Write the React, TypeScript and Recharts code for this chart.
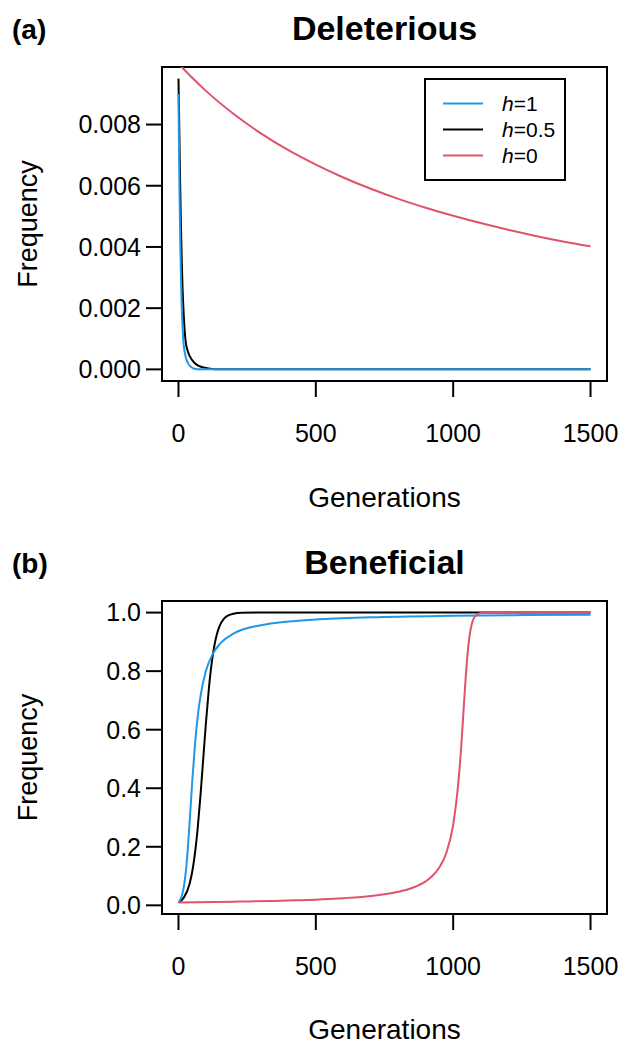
import React from "react";
import { LineChart, Line, XAxis, YAxis, ReferenceArea } from "recharts";

// ---------- Data ----------
// Panel (a) Deleterious
const delH1Gen = [0, 3, 6, 9, 12, 15, 18, 22, 26, 30, 36, 45, 55, 70, 100, 1500];
const delH1Freq = [0.009, 0.0063, 0.0044, 0.003, 0.002, 0.00135, 0.0009, 0.0006, 0.00042, 0.0003, 0.00018, 0.000085, 0.00003, 0.000006, 0, 0];

const delH05Gen = [0, 3, 6, 9, 12, 15, 19, 23, 27, 33, 40, 50, 60, 70, 82, 95, 115, 150, 1500];
const delH05Freq = [0.0095, 0.0078, 0.0061, 0.0047, 0.0035, 0.0026, 0.0018, 0.0012, 0.00085, 0.00062, 0.00045, 0.0003, 0.0002, 0.00013, 0.000085, 0.00005, 0.00002, 0.000003, 0];

const delH0Gen = [0, 12, 50, 100, 200, 300, 400, 500, 600, 700, 800, 900, 1000, 1100, 1200, 1300, 1400, 1500];
const delH0Freq = [0.01, 0.00988, 0.00953, 0.0091, 0.00835, 0.00771, 0.00716, 0.00669, 0.00627, 0.0059, 0.00557, 0.00528, 0.00502, 0.00478, 0.00456, 0.00436, 0.00418, 0.00402];

// Panel (b) Beneficial
const benH1Gen = [0, 10, 20, 30, 40, 50, 60, 70, 80, 100, 125, 150, 200, 300, 400, 500, 700, 1000, 1250, 1500];
const benH1Freq = [0.01, 0.0263, 0.0655, 0.147, 0.276, 0.422, 0.549, 0.645, 0.714, 0.801, 0.859, 0.8925, 0.928, 0.957, 0.9696, 0.9766, 0.984, 0.9891, 0.9914, 0.9929];

const benH05Gen = [0, 20, 40, 50, 60, 70, 80, 90, 100, 110, 120, 130, 140, 150, 165, 180, 200, 230, 300, 1500];
const benH05Freq = [0.01, 0.0272, 0.0721, 0.1146, 0.1773, 0.2641, 0.374, 0.499, 0.6236, 0.734, 0.821, 0.884, 0.927, 0.955, 0.9785, 0.9899, 0.9963, 0.9992, 1, 1];

const benH0Gen = [0, 200, 400, 600, 700, 800, 850, 900, 925, 950, 975, 1000, 1015, 1020, 1026, 1030, 1035, 1045, 1052, 1060, 1070, 1080, 1100, 1150, 1500];
const benH0Freq = [0.01, 0.0125, 0.0165, 0.0245, 0.032, 0.0463, 0.0594, 0.082, 0.101, 0.13, 0.179, 0.275, 0.383, 0.431, 0.5, 0.553, 0.624, 0.77, 0.855, 0.923, 0.969, 0.988, 0.9983, 1, 1];

const xTicks = [0, 500, 1000, 1500];
const delYTicks = [0, 0.002, 0.004, 0.006, 0.008];
const benYTicks = [0, 0.2, 0.4, 0.6, 0.8, 1.0];

const legendLabels = ["1", "0.5", "0"];

const BLUE = "#2297E6";
const BLACK = "#000000";
const RED = "#DF536B";
const FONT = "'Liberation Sans', Arial, Helvetica, sans-serif";

const pairs = (xs: number[], ys: number[]) => xs.map((x, i) => ({ x, y: ys[i] }));

const X_DOMAIN: [number, number] = [-60, 1560];
const DEL_Y_DOMAIN: [number, number] = [-0.00038, 0.00988];
const BEN_Y_DOMAIN: [number, number] = [-0.0296, 1.0396];

type PanelProps = {
  height: number;
  top: number;
  xAxisHeight: number;
  yDomain: [number, number];
  yTicks: number[];
  digits: number;
  series: { data: { x: number; y: number }[]; color: string; key: string }[];
};

function Panel({ height, top, xAxisHeight, yDomain, yTicks, digits, series }: PanelProps) {
  const tickStyle = { fill: "#000", fontSize: 25, fontFamily: FONT };
  return (
    <LineChart width={634} height={height} margin={{ top, right: 27, bottom: 0, left: 0 }}>
      <XAxis
        type="number"
        dataKey="x"
        domain={X_DOMAIN}
        ticks={xTicks}
        allowDataOverflow
        height={xAxisHeight}
        axisLine={false}
        tickLine={{ stroke: "#000", strokeWidth: 2 }}
        tickSize={16}
        tickMargin={27}
        tick={tickStyle}
        interval={0}
      />
      <YAxis
        type="number"
        dataKey="y"
        domain={yDomain}
        ticks={yTicks}
        allowDataOverflow
        width={162}
        axisLine={false}
        tickLine={{ stroke: "#000", strokeWidth: 2 }}
        tickSize={16}
        tickMargin={5}
        tick={tickStyle}
        interval={0}
        tickFormatter={(v: number) => v.toFixed(digits)}
      />
      {series.map((s) => (
        <Line
          key={s.key}
          data={s.data}
          dataKey="y"
          type="monotone"
          stroke={s.color}
          strokeWidth={2}
          dot={false}
          activeDot={false}
          isAnimationActive={false}
        />
      ))}
      <ReferenceArea
        x1={X_DOMAIN[0]}
        x2={X_DOMAIN[1]}
        y1={yDomain[0]}
        y2={yDomain[1]}
        fill="none"
        fillOpacity={0}
        stroke="#000"
        strokeWidth={2}
        ifOverflow="visible"
      />
    </LineChart>
  );
}

export default function App() {
  const delSeries = [
    { key: "delH05", data: pairs(delH05Gen, delH05Freq), color: BLACK },
    { key: "delH0", data: pairs(delH0Gen, delH0Freq), color: RED },
    { key: "delH1", data: pairs(delH1Gen, delH1Freq), color: BLUE },
  ];
  const benSeries = [
    { key: "benH05", data: pairs(benH05Gen, benH05Freq), color: BLACK },
    { key: "benH1", data: pairs(benH1Gen, benH1Freq), color: BLUE },
    { key: "benH0", data: pairs(benH0Gen, benH0Freq), color: RED },
  ];
  const legendColors = [BLUE, BLACK, RED];

  return (
    <div style={{ position: "absolute", left: 0, top: 0, width: 634, height: 1046, background: "#fff", fontFamily: FONT }}>
      <div style={{ position: "absolute", left: 0, top: 0 }}>
        <Panel height={530} top={67} xAxisHeight={149} yDomain={DEL_Y_DOMAIN} yTicks={delYTicks} digits={3} series={delSeries} />
      </div>
      <div style={{ position: "absolute", left: 0, top: 530 }}>
        <Panel height={516} top={71} xAxisHeight={132} yDomain={BEN_Y_DOMAIN} yTicks={benYTicks} digits={1} series={benSeries} />
      </div>
      <svg width={634} height={1046} style={{ position: "absolute", left: 0, top: 0, pointerEvents: "none" }} fontFamily={FONT}>
        {/* Panel (a) */}
        <text x={12} y={39} fontSize={28} fontWeight="bold">(a)</text>
        <text x={384.5} y={40} fontSize={34} fontWeight="bold" textAnchor="middle">Deleterious</text>
        <text x={384.5} y={507} fontSize={28} textAnchor="middle">Generations</text>
        <text transform="translate(37,224) rotate(-90)" fontSize={27} textAnchor="middle">Frequency</text>
        {/* Legend */}
        <rect x={425} y={79} width={140} height={101} fill="#fff" stroke="#000" strokeWidth={2} />
        {legendLabels.map((lab, i) => {
          const cy = 103.5 + i * 26;
          return (
            <g key={lab}>
              <line x1={443} x2={483} y1={cy} y2={cy} stroke={legendColors[i]} strokeWidth={2} />
              <text x={502} y={cy + 7.5} fontSize={21}>
                <tspan fontStyle="italic">h</tspan>
                <tspan>={lab}</tspan>
              </text>
            </g>
          );
        })}
        {/* Panel (b) */}
        <text x={12} y={573} fontSize={28} fontWeight="bold">(b)</text>
        <text x={384.5} y={574} fontSize={34} fontWeight="bold" textAnchor="middle">Beneficial</text>
        <text x={384.5} y={1039} fontSize={28} textAnchor="middle">Generations</text>
        <text transform="translate(37,757.5) rotate(-90)" fontSize={27} textAnchor="middle">Frequency</text>
      </svg>
    </div>
  );
}
